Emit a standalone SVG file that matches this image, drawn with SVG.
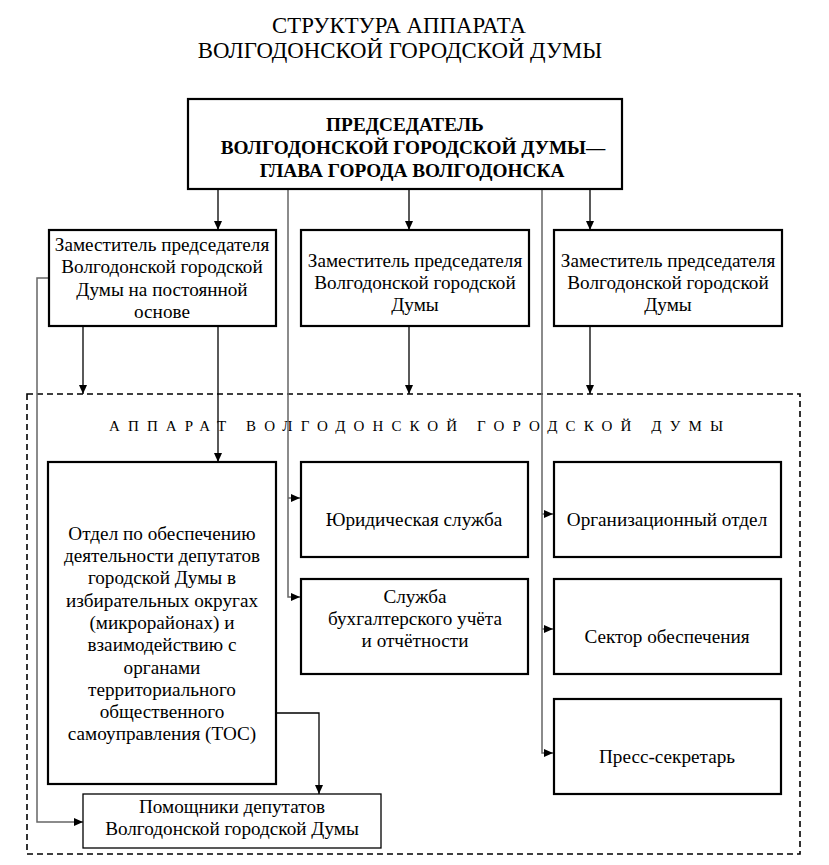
<svg xmlns="http://www.w3.org/2000/svg" width="829" height="865" viewBox="0 0 829 865">
<style>
text{font-family:"Liberation Serif","Times New Roman",serif;fill:#000;text-anchor:middle}
.t{font-size:22.8px}
.b{font-size:19.3px;font-weight:bold}
.n{font-size:19.2px}
.lab{font-size:15px;text-anchor:start}
.box{fill:#fff;stroke:#000;stroke-width:2.2}
.thin{fill:#fff;stroke:#000;stroke-width:1.3}
.dash{fill:none;stroke:#000;stroke-width:1.6;stroke-dasharray:6,4}
.c{fill:none;stroke:#000;stroke-width:1.3}
.g{fill:none;stroke:#666;stroke-width:1.5}
</style>
<defs>
<marker id="a" markerUnits="userSpaceOnUse" markerWidth="10" markerHeight="8" refX="9" refY="4" orient="auto">
<path d="M0,0 L9,4 L0,8 z" fill="#000"/>
</marker>
</defs>
<rect width="829" height="865" fill="#fff"/>
<text class="t" x="399" y="33">СТРУКТУРА АППАРАТА</text>
<text class="t" x="400" y="58">ВОЛГОДОНСКОЙ ГОРОДСКОЙ ДУМЫ</text>

<rect id="apparat" class="dash" x="27" y="394" width="773" height="460"/>
<text class="lab" x="109" y="431" textLength="614" lengthAdjust="spacing">АППАРАТ ВОЛГОДОНСКОЙ ГОРОДСКОЙ ДУМЫ</text>

<g id="connectors">
<path class="c" d="M218,189 V230" marker-end="url(#a)"/>
<path class="c" d="M409,189 V230" marker-end="url(#a)"/>
<path class="c" d="M590,189 V230" marker-end="url(#a)"/>
<path class="c" d="M83,326 V394" marker-end="url(#a)"/>
<path class="c" d="M218,326 V462" marker-end="url(#a)"/>
<path class="c" d="M409,326 V394" marker-end="url(#a)"/>
<path class="c" d="M590,326 V394" marker-end="url(#a)"/>
<path class="g" d="M288,189 V597 H300" marker-end="url(#a)"/>
<path class="g" d="M288,498 H300" marker-end="url(#a)"/>
<path class="g" d="M542,189 V753 H553" marker-end="url(#a)"/>
<path class="g" d="M542,514 H553" marker-end="url(#a)"/>
<path class="g" d="M542,629 H553" marker-end="url(#a)"/>
<path class="g" d="M48,278 H37 V822 H83" marker-end="url(#a)"/>
<path class="c" d="M276,713 H319 V794" marker-end="url(#a)"/>
</g>

<g id="chair">
<rect class="box" x="188" y="99" width="434" height="90"/>
<text class="b" x="405" y="131">ПРЕДСЕДАТЕЛЬ</text>
<text class="b" x="413" y="154">ВОЛГОДОНСКОЙ ГОРОДСКОЙ ДУМЫ—</text>
<text class="b" x="412" y="177">ГЛАВА ГОРОДА ВОЛГОДОНСКА</text>
</g>

<g id="dep1">
<rect class="box" x="49" y="230" width="227" height="96"/>
<text class="n" x="162" y="251">Заместитель председателя</text>
<text class="n" x="162" y="273">Волгодонской городской</text>
<text class="n" x="162" y="296">Думы на постоянной</text>
<text class="n" x="162" y="318">основе</text>
</g>

<g id="dep2">
<rect class="box" x="301" y="230" width="228" height="96"/>
<text class="n" x="415" y="267">Заместитель председателя</text>
<text class="n" x="415" y="289">Волгодонской городской</text>
<text class="n" x="415" y="311">Думы</text>
</g>

<g id="dep3">
<rect class="box" x="554" y="230" width="228" height="96"/>
<text class="n" x="668" y="267">Заместитель председателя</text>
<text class="n" x="668" y="289">Волгодонской городской</text>
<text class="n" x="668" y="311">Думы</text>
</g>

<g id="otdel">
<rect class="box" x="48" y="462" width="228" height="322"/>
<text class="n" x="162" y="540">Отдел по обеспечению</text>
<text class="n" x="162" y="562">деятельности депутатов</text>
<text class="n" x="162" y="584">городской Думы в</text>
<text class="n" x="162" y="607">избирательных округах</text>
<text class="n" x="162" y="629">(микрорайонах) и</text>
<text class="n" x="162" y="651">взаимодействию с</text>
<text class="n" x="162" y="674">органами</text>
<text class="n" x="162" y="696">территориального</text>
<text class="n" x="162" y="718">общественного</text>
<text class="n" x="162" y="740">самоуправления (ТОС)</text>
</g>

<g id="pomoshniki">
<rect class="thin" x="83" y="794" width="298" height="54"/>
<text class="n" x="232" y="813">Помощники депутатов</text>
<text class="n" x="232" y="835">Волгодонской городской Думы</text>
</g>

<g id="yur">
<rect class="box" x="301" y="462" width="227" height="95"/>
<text class="n" x="414" y="526">Юридическая служба</text>
</g>

<g id="buh">
<rect class="box" x="301" y="579" width="227" height="95"/>
<text class="n" x="415" y="603">Служба</text>
<text class="n" x="415" y="625">бухгалтерского учёта</text>
<text class="n" x="415" y="647">и отчётности</text>
</g>

<g id="org">
<rect class="box" x="554" y="462" width="227" height="95"/>
<text class="n" x="667" y="526">Организационный отдел</text>
</g>

<g id="sector">
<rect class="box" x="554" y="579" width="227" height="95"/>
<text class="n" x="667" y="643">Сектор обеспечения</text>
</g>

<g id="press">
<rect class="box" x="554" y="699" width="227" height="95"/>
<text class="n" x="667" y="763">Пресс-секретарь</text>
</g>
</svg>
